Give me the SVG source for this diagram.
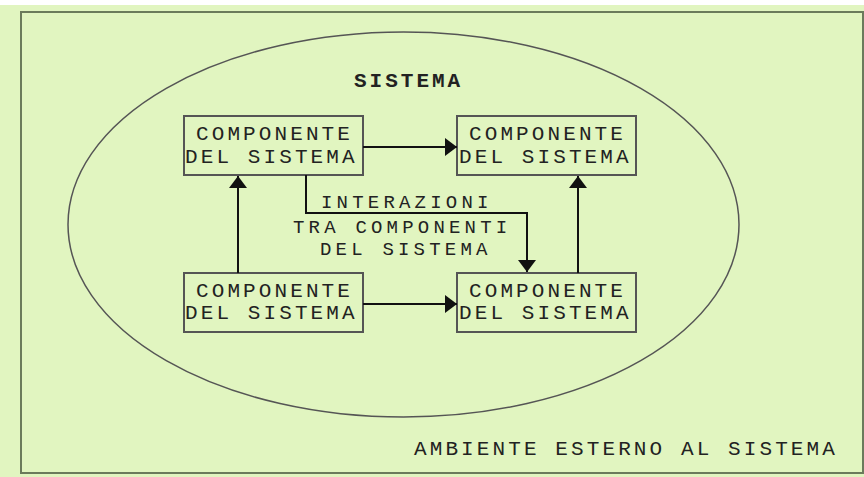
<svg xmlns="http://www.w3.org/2000/svg" width="864" height="477" viewBox="0 0 864 477">
<style>
.t{font-family:"Liberation Mono","DejaVu Sans Mono",monospace;font-size:21px;letter-spacing:3.1px;fill:#222}
.s{font-size:19px;letter-spacing:4.2px}
.b{font-weight:bold;font-size:21px;letter-spacing:3px}
.box{fill:none;stroke:#555;stroke-width:2}
.c{fill:none;stroke:#111;stroke-width:2}
</style>
<defs>
<marker id="ah" viewBox="0 0 12 18" refX="12" refY="9" markerWidth="12" markerHeight="18" markerUnits="userSpaceOnUse" orient="auto">
<path d="M0,0 L12,9 L0,18 Z" fill="#111"/>
</marker>
</defs>
<rect x="0" y="0" width="864" height="477" fill="#fff"/>
<rect x="0" y="5" width="864" height="472" fill="#e1f5c0"/>
<g id="ambiente">
<rect x="21" y="12" width="842" height="461" fill="none" stroke="#6b7b5b" stroke-width="2"/>
<text class="t" x="414" y="455">AMBIENTE ESTERNO AL SISTEMA</text>
</g>
<g id="sistema">
<ellipse cx="403.5" cy="224.5" rx="335.5" ry="192.5" fill="none" stroke="#555" stroke-width="1.5"/>
<text class="t b" x="354" y="87">SISTEMA</text>
</g>
<g id="comp-tl">
<rect class="box" x="184" y="116" width="179" height="59"/>
<text class="t" x="196" y="140">COMPONENTE</text>
<text class="t" x="185" y="163">DEL SISTEMA</text>
</g>
<g id="comp-tr">
<rect class="box" x="457" y="116" width="179" height="59"/>
<text class="t" x="469" y="140">COMPONENTE</text>
<text class="t" x="459" y="163">DEL SISTEMA</text>
</g>
<g id="comp-bl">
<rect class="box" x="184" y="273" width="179" height="59"/>
<text class="t" x="196" y="297">COMPONENTE</text>
<text class="t" x="185" y="319">DEL SISTEMA</text>
</g>
<g id="comp-br">
<rect class="box" x="457" y="273" width="179" height="59"/>
<text class="t" x="469" y="297">COMPONENTE</text>
<text class="t" x="459" y="319">DEL SISTEMA</text>
</g>
<g id="connectors">
<line class="c" x1="363" y1="147" x2="457" y2="147" marker-end="url(#ah)"/>
<line class="c" x1="363" y1="304" x2="457" y2="304" marker-end="url(#ah)"/>
<line class="c" x1="238" y1="273" x2="238" y2="176" marker-end="url(#ah)"/>
<line class="c" x1="578" y1="273" x2="578" y2="176" marker-end="url(#ah)"/>
<polyline class="c" points="306,175 306,213 527,213 527,272" marker-end="url(#ah)"/>
</g>
<g id="interazioni">
<text class="t s" x="321" y="208">INTERAZIONI</text>
<text class="t s" x="293" y="233">TRA COMPONENTI</text>
<text class="t s" x="320" y="255">DEL SISTEMA</text>
</g>
</svg>
